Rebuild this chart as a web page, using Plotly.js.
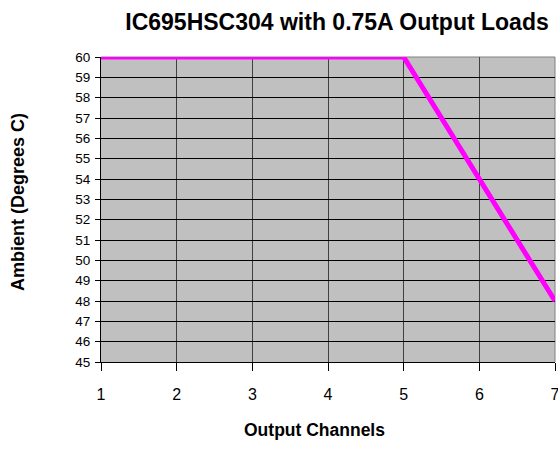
<!DOCTYPE html>
<html>
<head>
<meta charset="utf-8">
<script src="https://cdn.plot.ly/plotly-3.0.1.min.js"></script>
<style>html,body{margin:0;padding:0;background:#fff;}#chart{width:558px;height:471px;}</style>
</head>
<body>
<div id="chart"></div>
<script>
const channels = [1, 5, 7];
const ambient = [60, 60, 48];
const xTicks = [1, 2, 3, 4, 5, 6, 7];
const yTicks = [45, 46, 47, 48, 49, 50, 51, 52, 53, 54, 55, 56, 57, 58, 59, 60];

const W = 558, H = 471;
const font = "Arial, 'Liberation Sans', sans-serif";

const trace = {
  x: channels, y: ambient, type: 'scatter', mode: 'lines',
  line: {color: '#FF00FF', width: 5}, hoverinfo: 'none', cliponaxis: false
};

const layout = {
  width: W, height: H,
  margin: {l: 101, r: 3, t: 57, b: 109, pad: 0},
  paper_bgcolor: '#ffffff', plot_bgcolor: '#C0C0C0',
  showlegend: false,
  font: {family: font, color: '#000'},
  title: {text: '<b>IC695HSC304 with 0.75A Output Loads</b>', font: {family: font, size: 23, color: '#000'},
          xref: 'container', yref: 'container', x: 337 / W, y: 1 - 22 / H, xanchor: 'center', yanchor: 'middle'},
  xaxis: {
    range: [1, 7], tickvals: xTicks, ticktext: xTicks.map(String),
    showgrid: true, gridcolor: '#404040', gridwidth: 1,
    ticks: 'outside', ticklen: 8, tickcolor: '#000', tickwidth: 1,
    showline: true, linecolor: '#000', linewidth: 1, mirror: false,
    zeroline: false, tickfont: {family: font, size: 16, color: '#000'},
    ticklabelstandoff: 10, ticklabeloverflow: 'allow', fixedrange: true
  },
  yaxis: {
    range: [45, 60], tickvals: yTicks, ticktext: yTicks.map(String),
    showgrid: true, gridcolor: '#000', gridwidth: 1,
    ticks: 'outside', ticklen: 5, tickcolor: '#000', tickwidth: 1,
    showline: true, linecolor: '#000', linewidth: 1, mirror: false,
    zeroline: false, tickfont: {family: font, size: 13.5, color: '#000'},
    ticklabelstandoff: 2, ticklabeloverflow: 'allow', fixedrange: true
  },
  shapes: [
    {type: 'line', xref: 'paper', yref: 'paper', x0: 0, x1: 1, y0: 1, y1: 1, line: {color: '#808080', width: 1}, layer: 'below'},
    {type: 'line', xref: 'paper', yref: 'paper', x0: 1, x1: 1, y0: 0, y1: 1, line: {color: '#808080', width: 1}, layer: 'below'}
  ],
  annotations: [
    {text: '<b>Output Channels</b>', xref: 'paper', yref: 'paper', x: (314 - 101) / 454, y: -(430 - 362) / 305,
     xanchor: 'center', yanchor: 'middle', showarrow: false, font: {family: font, size: 17.5, color: '#000'}},
    {text: '<b>Ambient (Degrees C)</b>', xref: 'paper', yref: 'paper', x: -(101 - 18) / 454, y: (362 - 202) / 305,
     xanchor: 'center', yanchor: 'middle', showarrow: false, textangle: -90, font: {family: font, size: 18, color: '#000'}}
  ]
};

Plotly.newPlot('chart', [trace], layout, {staticPlot: true, displayModeBar: false});
</script>
</body>
</html>
